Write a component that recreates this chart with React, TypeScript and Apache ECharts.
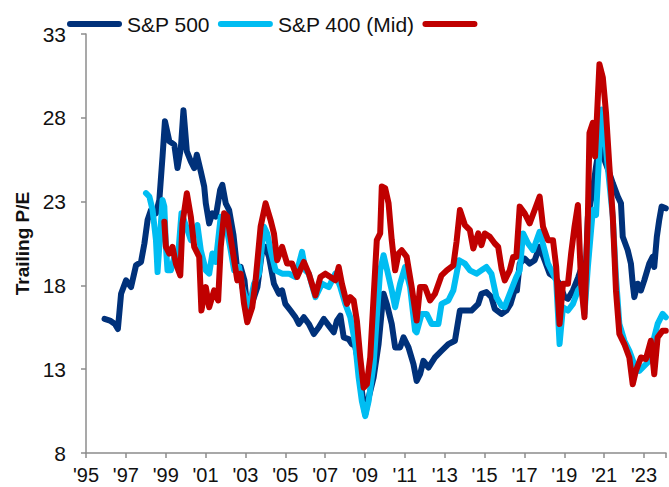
import React, { useEffect, useRef } from "react";
import * as echarts from "echarts";

// Trailing P/E readings: [decimal year, P/E]
const sp500: [number, number][] = [
  [1995.93,16.0],[1996.2,15.9],[1996.45,15.7],[1996.6,15.4],[1996.76,17.5],[1997.01,18.3],[1997.26,17.9],[1997.51,19.2],[1997.76,19.4],[1997.93,20.5],[1998.09,21.9],[1998.26,22.5],[1998.51,22.3],[1998.68,23.1],[1998.84,25.7],[1998.96,27.8],[1999.18,26.6],[1999.43,26.4],[1999.59,25.0],[1999.76,26.2],[1999.89,28.45],[2000.06,26.0],[2000.26,25.4],[2000.43,25.0],[2000.56,25.8],[2000.76,24.8],[2000.93,23.9],[2001.01,22.9],[2001.18,21.7],[2001.34,22.3],[2001.51,22.1],[2001.73,23.7],[2001.84,24.0],[2002.01,22.9],[2002.18,22.5],[2002.4,21.0],[2002.59,18.9],[2002.76,19.1],[2002.95,18.3],[2003.1,16.5],[2003.35,17.0],[2003.6,17.9],[2003.84,20.1],[2004.01,20.3],[2004.18,19.7],[2004.43,18.1],[2004.68,17.5],[2004.84,17.7],[2005.0,16.9],[2005.26,16.5],[2005.51,16.1],[2005.68,15.7],[2005.93,16.1],[2006.18,15.7],[2006.43,15.1],[2006.68,15.5],[2006.93,16.0],[2007.18,15.6],[2007.43,15.2],[2007.59,15.9],[2007.76,16.2],[2007.93,14.9],[2008.18,14.8],[2008.34,14.5],[2008.5,14.4],[2008.68,13.3],[2008.84,11.7],[2009.01,10.3],[2009.18,11.3],[2009.43,12.5],[2009.68,14.5],[2009.84,16.5],[2009.93,17.5],[2010.09,16.9],[2010.34,15.7],[2010.51,14.3],[2010.76,14.3],[2010.93,14.9],[2011.18,14.3],[2011.43,13.3],[2011.59,12.3],[2011.76,12.7],[2011.93,13.5],[2012.18,13.1],[2012.51,13.7],[2012.84,14.1],[2013.18,14.5],[2013.51,14.7],[2013.76,16.5],[2014.01,16.5],[2014.34,16.5],[2014.68,16.9],[2014.84,17.5],[2015.09,17.6],[2015.34,17.3],[2015.51,16.6],[2015.84,16.3],[2016.09,16.5],[2016.3,16.9],[2016.5,17.7],[2016.62,17.7],[2016.76,19.3],[2017.01,19.6],[2017.26,19.3],[2017.51,19.5],[2017.76,20.3],[2018.01,19.5],[2018.26,18.7],[2018.51,18.5],[2018.76,18.1],[2019.01,17.3],[2019.18,17.2],[2019.43,17.7],[2019.7,18.5],[2019.93,19.3],[2020.05,18.0],[2020.18,22.1],[2020.43,23.7],[2020.59,25.1],[2020.76,26.3],[2021.01,25.5],[2021.26,24.7],[2021.43,24.1],[2021.68,23.3],[2021.84,22.9],[2021.93,20.9],[2022.18,20.1],[2022.34,19.3],[2022.43,18.1],[2022.51,17.3],[2022.68,18.1],[2022.84,17.7],[2023.01,18.3],[2023.26,19.3],[2023.43,19.7],[2023.51,19.1],[2023.64,20.9],[2023.76,21.9],[2023.88,22.7],[2024.09,22.6]
];

const sp400: [number, number][] = [
  [1998.01,23.5],[1998.18,23.3],[1998.34,22.5],[1998.51,20.7],[1998.59,18.8],[1998.84,23.1],[1998.93,22.7],[1999.01,20.3],[1999.09,18.9],[1999.26,18.9],[1999.43,19.7],[1999.59,19.3],[1999.79,22.3],[2000.09,21.3],[2000.26,20.7],[2000.43,21.1],[2000.59,21.6],[2000.76,20.1],[2001.01,18.9],[2001.18,18.7],[2001.34,19.9],[2001.51,19.4],[2001.76,22.1],[2002.01,21.7],[2002.26,20.1],[2002.43,18.9],[2002.68,19.1],[2002.84,17.9],[2003.01,17.3],[2003.09,16.1],[2003.43,18.1],[2003.68,18.7],[2003.93,21.5],[2004.09,21.1],[2004.26,20.1],[2004.51,18.9],[2004.84,18.7],[2005.18,18.7],[2005.51,18.5],[2005.84,20.0],[2006.01,18.9],[2006.18,18.7],[2006.51,17.3],[2006.84,18.1],[2007.18,17.9],[2007.51,18.7],[2007.76,17.9],[2008.01,16.9],[2008.26,16.1],[2008.51,14.5],[2008.68,12.5],[2008.84,11.1],[2009.01,10.2],[2009.18,11.1],[2009.43,13.3],[2009.59,16.1],[2009.76,18.9],[2009.93,19.8],[2010.09,19.0],[2010.34,17.7],[2010.51,16.7],[2010.76,18.1],[2011.01,19.1],[2011.26,17.9],[2011.51,15.3],[2011.59,15.2],[2011.84,16.3],[2012.09,16.3],[2012.34,15.7],[2012.68,15.7],[2012.84,16.9],[2013.18,17.1],[2013.43,17.7],[2013.72,19.5],[2014.01,19.3],[2014.26,18.9],[2014.59,18.7],[2014.84,18.9],[2015.09,19.1],[2015.34,18.7],[2015.59,17.3],[2015.84,16.8],[2016.0,16.7],[2016.26,17.5],[2016.59,18.5],[2016.76,18.9],[2016.93,21.1],[2017.18,20.5],[2017.43,20.1],[2017.76,21.2],[2018.01,20.1],[2018.18,19.3],[2018.43,18.7],[2018.59,18.3],[2018.76,14.5],[2018.93,16.7],[2019.18,16.5],[2019.43,16.9],[2019.68,17.7],[2019.88,18.0],[2020.01,16.3],[2020.18,19.1],[2020.43,22.5],[2020.59,22.2],[2020.76,26.1],[2020.88,28.5],[2021.01,27.1],[2021.26,24.1],[2021.43,22.1],[2021.59,18.5],[2021.76,15.7],[2022.01,14.7],[2022.26,14.1],[2022.51,13.3],[2022.76,12.9],[2023.01,13.2],[2023.26,13.5],[2023.51,14.9],[2023.68,15.7],[2023.93,16.3],[2024.09,16.1]
];

const sp600: [number, number][] = [
  [1998.93,21.8],[1999.01,20.3],[1999.18,19.9],[1999.34,20.3],[1999.51,19.3],[1999.73,18.6],[1999.84,21.7],[2000.06,23.5],[2000.26,22.1],[2000.43,20.3],[2000.68,19.7],[2000.79,16.5],[2001.01,17.9],[2001.18,16.7],[2001.43,17.7],[2001.63,17.1],[2001.76,20.3],[2001.93,22.3],[2002.09,22.1],[2002.3,20.5],[2002.59,18.3],[2002.76,18.7],[2002.93,16.9],[2003.09,15.8],[2003.34,16.7],[2003.51,18.3],[2003.76,21.5],[2004.01,22.9],[2004.26,21.9],[2004.43,21.1],[2004.59,19.5],[2004.84,20.3],[2005.09,19.3],[2005.34,19.3],[2005.59,18.5],[2005.93,19.4],[2006.18,18.7],[2006.51,17.4],[2006.76,18.5],[2007.01,18.7],[2007.26,18.5],[2007.51,18.3],[2007.68,19.1],[2007.84,18.1],[2008.09,16.9],[2008.26,17.3],[2008.43,17.1],[2008.59,15.9],[2008.76,13.7],[2008.93,11.9],[2009.09,12.1],[2009.26,13.7],[2009.43,17.3],[2009.59,20.7],[2009.76,21.1],[2009.84,23.9],[2010.01,23.8],[2010.18,22.9],[2010.34,20.7],[2010.51,18.9],[2010.68,19.9],[2010.84,20.1],[2011.09,19.7],[2011.34,17.9],[2011.59,15.9],[2011.76,17.9],[2012.01,17.9],[2012.26,17.1],[2012.51,17.5],[2012.84,18.6],[2013.1,18.9],[2013.43,19.2],[2013.59,20.6],[2013.76,22.5],[2014.01,21.6],[2014.26,21.3],[2014.43,20.2],[2014.68,21.1],[2014.84,20.4],[2015.01,21.1],[2015.26,20.9],[2015.51,20.5],[2015.68,20.3],[2015.85,19.0],[2016.01,18.3],[2016.26,18.9],[2016.43,19.7],[2016.59,19.7],[2016.76,22.7],[2017.01,22.3],[2017.26,21.7],[2017.51,22.5],[2017.76,23.3],[2017.93,21.5],[2018.18,20.7],[2018.43,20.7],[2018.59,19.1],[2018.76,15.7],[2018.93,18.1],[2019.18,18.1],[2019.34,19.9],[2019.51,21.5],[2019.68,22.8],[2019.84,18.1],[2020.01,16.1],[2020.18,22.1],[2020.26,27.1],[2020.43,27.7],[2020.54,25.7],[2020.76,31.2],[2020.93,30.4],[2021.09,28.3],[2021.26,25.1],[2021.43,22.1],[2021.59,17.7],[2021.76,15.1],[2022.01,14.5],[2022.26,13.7],[2022.43,12.1],[2022.59,12.9],[2022.84,13.7],[2023.09,13.6],[2023.34,14.7],[2023.51,12.7],[2023.68,14.9],[2023.93,15.3],[2024.09,15.3]
];

const seriesNames = ["S&P 500", "S&P 400 (Mid)", "S&P 600 (Small)"];
const legendLabels = ["S&P 500", "S&P 400 (Mid)", ""];
const seriesColors = ["#00317A", "#00BDF2", "#C00000"];

const X0 = 1995; // x axis starts at 1995
const Y0 = 8; // y axis starts at 8
const X_SPAN = 29.1;
const Y_SPAN = 25;

const FONT = "'Liberation Sans', Arial, sans-serif";
const AXIS_GRAY = "#8c8c8c";

export default function App() {
  const ref = useRef<HTMLDivElement>(null);

  useEffect(() => {
    if (!ref.current) return;
    const chart = echarts.init(ref.current, undefined, { renderer: "svg" });
    const shift = (arr: [number, number][]) => arr.map(([x, y]) => [x - X0, y - Y0]);
    const all = [sp500, sp400, sp600];
    const legendIcon = "path://M3,0H52A3,3,0,0,1,52,6H3A3,3,0,0,1,3,0Z";

    chart.setOption({
      animation: false,
      textStyle: { fontFamily: FONT },
      grid: { left: 86, right: 0, top: 34, bottom: 34, containLabel: false },
      legend: {
        left: 62,
        top: 8,
        itemWidth: 55,
        itemHeight: 6,
        itemGap: 8,
        icon: legendIcon,
        data: seriesNames,
        formatter: (name: string) => legendLabels[seriesNames.indexOf(name)],
        textStyle: { fontSize: 21, color: "#111", fontFamily: FONT, lineHeight: 22 },
      },
      xAxis: {
        type: "value",
        min: 0,
        max: X_SPAN,
        interval: 2,
        axisLine: { show: true, lineStyle: { color: AXIS_GRAY, width: 1.5 } },
        axisTick: { show: true, length: 5, lineStyle: { color: AXIS_GRAY, width: 1.5 } },
        splitLine: { show: false },
        axisLabel: {
          fontSize: 20,
          color: "#111",
          margin: 12,
          fontFamily: FONT,
          formatter: (v: number) => {
            const r = Math.round(v);
            if (Math.abs(v - r) > 1e-6 || r % 2 !== 0) return "";
            return "'" + String((X0 + r) % 100).padStart(2, "0");
          },
        },
      },
      yAxis: {
        type: "value",
        min: 0,
        max: Y_SPAN,
        interval: 5,
        name: "Trailing P/E",
        nameLocation: "middle",
        nameGap: 50,
        nameTextStyle: { fontSize: 19, fontWeight: "bold", color: "#111", fontFamily: FONT },
        axisLine: { show: true, lineStyle: { color: AXIS_GRAY, width: 1.5 } },
        axisTick: { show: true, length: 5, lineStyle: { color: AXIS_GRAY, width: 1.5 } },
        splitLine: { show: false },
        axisLabel: {
          fontSize: 21,
          color: "#111",
          margin: 20,
          fontFamily: FONT,
          formatter: (v: number) => String(Math.round(v + Y0)),
        },
      },
      series: all.map((arr, i) => ({
        name: seriesNames[i],
        type: "line",
        data: shift(arr),
        showSymbol: false,
        symbol: "none",
        color: seriesColors[i],
        lineStyle: { color: seriesColors[i], width: 6, join: "round", cap: "round" },
        z: 2 + i,
      })),
    });
    return () => chart.dispose();
  }, []);

  return (
    <div
      ref={ref}
      style={{ position: "fixed", left: 0, top: 0, width: 669, height: 487, background: "#fff" }}
    />
  );
}
